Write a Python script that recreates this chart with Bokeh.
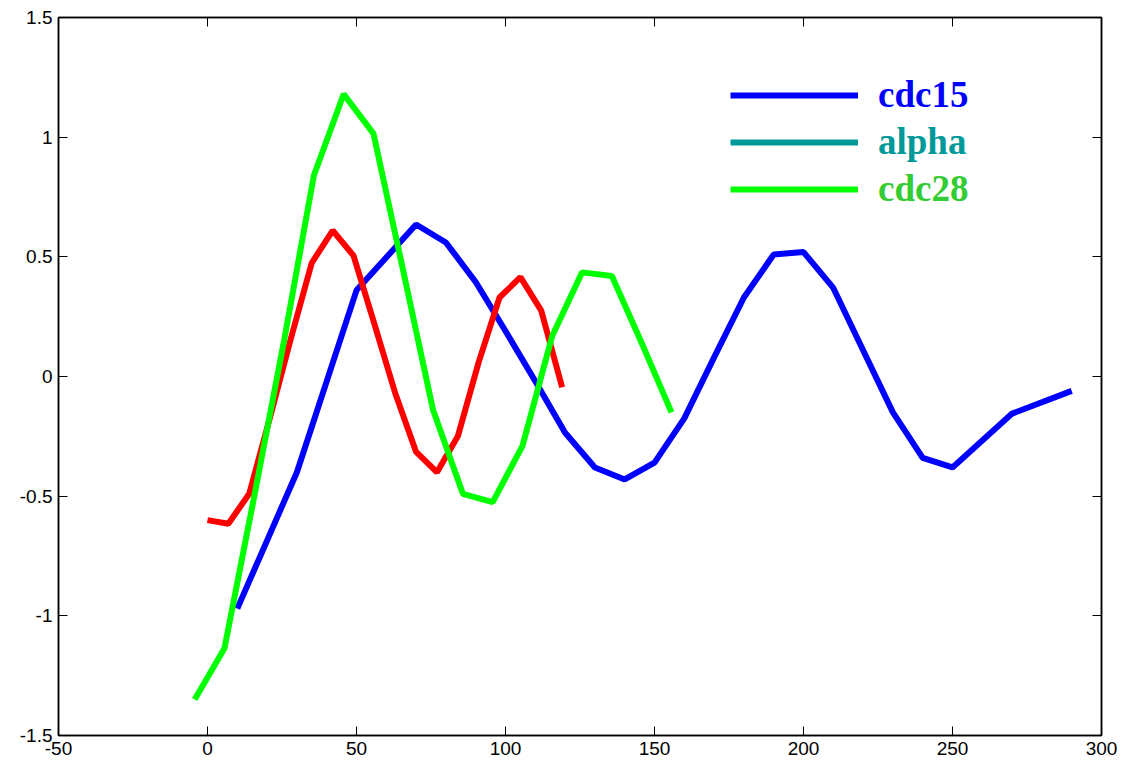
from bokeh.plotting import figure
from bokeh.models import Range1d, FixedTicker, LinearAxis, Legend, LegendItem
from bokeh.embed import file_html
from bokeh.resources import INLINE

# ---- data ----
cdc15_t = [10, 30, 50, 70, 80, 90, 100, 110, 120, 130, 140, 150, 160, 170, 180,
           190, 200, 210, 220, 230, 240, 250, 270, 290]
cdc15_v = [-0.97, -0.40, 0.36, 0.635, 0.56, 0.395, 0.19, -0.02, -0.235, -0.38,
           -0.43, -0.36, -0.175, 0.08, 0.33, 0.51, 0.52, 0.37, 0.11, -0.15,
           -0.34, -0.38, -0.155, -0.06]

alpha_t = [0, 7, 14, 21, 28, 35, 42, 49, 56, 63, 70, 77, 84, 91, 98, 105, 112, 119]
alpha_v = [-0.60, -0.615, -0.49, -0.17, 0.16, 0.475, 0.61, 0.505, 0.22, -0.07,
           -0.315, -0.40, -0.25, 0.06, 0.33, 0.415, 0.275, -0.045]

cdc28_t = [-4.3, 5.7, 15.7, 25.7, 35.7, 45.7, 55.7, 65.7, 75.7, 85.7, 95.7,
           105.7, 115.7, 125.7, 135.7, 145.7, 155.7]
cdc28_v = [-1.35, -1.135, -0.50, 0.15, 0.84, 1.18, 1.015, 0.44, -0.14, -0.49,
           -0.525, -0.29, 0.17, 0.435, 0.42, 0.14, -0.15]

x_ticks = [-50, 0, 50, 100, 150, 200, 250, 300]
x_labels = ["-50", "0", "50", "100", "150", "200", "250", "300"]
y_ticks = [-1.5, -1, -0.5, 0, 0.5, 1, 1.5]
y_labels = ["-1.5", "-1", "-0.5", "0", "0.5", "1", "1.5"]

legend_names = ["cdc15", "alpha", "cdc28"]
legend_line_colors = ["#0000ff", "#009999", "#00ff00"]
legend_text_colors = ["#0000ff", "#009999", "#33cc33"]

# ---- figure ----
p = figure(width=1136, height=764, output_backend="svg", toolbar_location=None,
           x_range=Range1d(-50, 300), y_range=Range1d(-1.5, 1.5),
           min_border_left=58, min_border_right=35, min_border_top=17,
           min_border_bottom=29)
p.grid.visible = False
p.outline_line_color = "black"
p.outline_line_width = 1.5
p.background_fill_color = "white"
p.border_fill_color = "white"

p.line(cdc15_t, cdc15_v, line_color="#0000ff", line_width=6)
p.line(alpha_t, alpha_v, line_color="#ff0000", line_width=6)
p.line(cdc28_t, cdc28_v, line_color="#00ff00", line_width=6)

# legend-only renderers (a single undefined point, so nothing shows in the plot)
dummies = [p.line(x=[0.0], y=[float("nan")], line_color=c, line_width=6)
           for c in legend_line_colors]


def style_axis(ax, ticks, labels, show_labels=True):
    ax.ticker = FixedTicker(ticks=ticks)
    ax.major_tick_in = 9
    ax.major_tick_out = 0
    ax.minor_tick_in = 0
    ax.minor_tick_out = 0
    ax.axis_line_color = "black"
    ax.axis_line_width = 1.5
    ax.major_tick_line_color = "black"
    ax.major_tick_line_width = 1
    ax.major_label_text_font = "Liberation Sans"
    ax.major_label_text_color = "black"
    if show_labels:
        ax.major_label_overrides = {t: l for t, l in zip(ticks, labels)}
        ax.major_label_text_font_size = "19px"
        ax.major_label_standoff = 6
    else:
        ax.major_label_overrides = {t: "" for t in ticks}
        ax.major_label_text_font_size = "8px"
        ax.major_label_standoff = 0


style_axis(p.xaxis[0], x_ticks, x_labels)
style_axis(p.yaxis[0], y_ticks, y_labels)

top = LinearAxis()
style_axis(top, x_ticks, x_labels, show_labels=False)
p.add_layout(top, "above")
right = LinearAxis()
style_axis(right, y_ticks, y_labels, show_labels=False)
p.add_layout(right, "right")

# legends: one per entry so each label gets its own colour
line_frame_y = [640, 593, 546]
for name, r, tc, fy in zip(legend_names, dummies, legend_text_colors, line_frame_y):
    lg = Legend(items=[LegendItem(label=name, renderers=[r])],
                location=(672, fy - 21), orientation="vertical",
                glyph_width=128, glyph_height=42, label_height=42,
                label_standoff=20, padding=0, margin=0, spacing=0,
                border_line_alpha=0, background_fill_alpha=0,
                label_text_font="Liberation Serif", label_text_font_style="bold",
                label_text_font_size="37px", label_text_color=tc)
    p.add_layout(lg, "center")

open("out.html", "w").write(file_html(p, INLINE))
